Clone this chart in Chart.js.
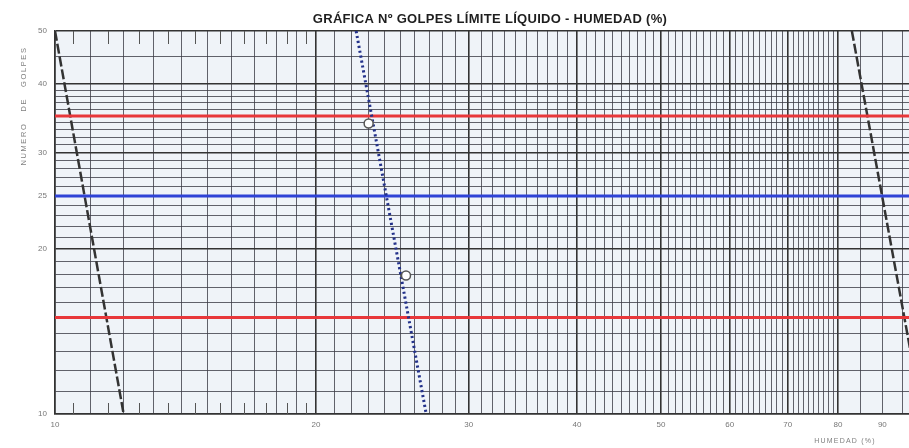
<!DOCTYPE html>
<html>
<head>
<meta charset="utf-8">
<script src="https://cdn.jsdelivr.net/npm/chart.js@4.4.1/dist/chart.umd.min.js"></script>
<style>
html,body{margin:0;padding:0;background:#ffffff;overflow:hidden;}
canvas{display:block;}
</style>
</head>
<body>
<canvas id="c" width="909" height="448"></canvas>
<script>
// ---- text ----
const chartTitle = 'GRÁFICA Nº GOLPES LÍMITE LÍQUIDO - HUMEDAD (%)';
const xAxisTitle = 'HUMEDAD (%)';
const yAxisTitle = 'NUMERO   DE   GOLPES';

// ---- axes ----
const xRange = [10, 96.6];
const yRange = [10, 50];
const xTickLabels = [10, 20, 30, 40, 50, 60, 70, 80, 90];
const yTickLabels = [10, 20, 25, 30, 40, 50];
const xGridValues = [10, 11, 12, 13, 14, 15, 16, 17, 18, 19, 20, 21, 22, 23, 24, 25, 26, 27, 28, 29,
  30, 31, 32, 33, 34, 35, 36, 37, 38, 39, 40, 41, 42, 43, 44, 45, 46, 47, 48, 49,
  50, 51, 52, 53, 54, 55, 56, 57, 58, 59, 60, 61, 62, 63, 64, 65, 66, 67, 68, 69,
  70, 71, 72, 73, 74, 75, 76, 77, 78, 79, 80, 85, 90, 95];
const xMajorGrid = [10, 20, 30, 40, 50, 60, 70, 80];
const yGridValues = [10, 11, 12, 13, 14, 15, 16, 17, 18, 19, 20, 21, 22, 23, 24, 25, 26, 27, 28, 29,
  30, 31, 32, 33, 34, 35, 36, 37, 38, 39, 40, 45, 50];
const yMajorGrid = [10, 20, 30, 40, 50];
const halfTickValues = [10.5, 11.5, 12.5, 13.5, 14.5, 15.5, 16.5, 17.5, 18.5, 19.5];

// ---- data ----
const sampleMoisture = [23.0, 25.4];
const sampleBlows = [33.9, 17.9];
const flowLineMoisture = [22.25, 26.8];
const flowLineBlows = [50, 10];
const leftLimitMoisture = [10, 12];
const leftLimitBlows = [50, 10];
const rightLimitMoisture = [83, 100];
const rightLimitBlows = [50, 10];
const redLevels = [35, 15];
const blueLevel = 25;

const pts = (xs, ys) => xs.map((x, i) => ({x: x, y: ys[i]}));
const hLine = (y) => [{x: xRange[0], y: y}, {x: xRange[1], y: y}];
const FONT = '"Liberation Sans", Arial, sans-serif';

const bgPlugin = {
  id: 'bg',
  beforeDraw(chart) {
    const {ctx, chartArea: a} = chart;
    ctx.save();
    ctx.fillStyle = '#eff3f8';
    ctx.fillRect(a.left, a.top, a.right - a.left, a.bottom - a.top);
    ctx.restore();
  },
  beforeDatasetsDraw(chart) {
    const {ctx, chartArea: a, scales} = chart;
    ctx.save();
    ctx.strokeStyle = '#555';
    ctx.lineWidth = 1;
    halfTickValues.forEach(v => {
      const px = Math.round(scales.x.getPixelForValue(v)) + 0.5;
      ctx.beginPath();
      ctx.moveTo(px, a.top); ctx.lineTo(px, a.top + 13);
      ctx.moveTo(px, a.bottom); ctx.lineTo(px, a.bottom - 11);
      ctx.stroke();
    });
    ctx.restore();
  },
  afterDraw(chart) {
    const {ctx} = chart;
    ctx.save();
    ctx.fillStyle = '#1e1e1e';
    ctx.font = 'bold 13px ' + FONT;
    if ('letterSpacing' in ctx) ctx.letterSpacing = '0.3px';
    ctx.textAlign = 'center';
    ctx.textBaseline = 'middle';
    ctx.fillText(chartTitle, 490, 19);
    ctx.fillStyle = '#808080';
    ctx.font = '7px ' + FONT;
    if ('letterSpacing' in ctx) ctx.letterSpacing = '1.2px';
    ctx.fillText(xAxisTitle, 845, 441);
    ctx.translate(24, 106);
    ctx.rotate(-Math.PI / 2);
    ctx.font = '7.5px ' + FONT;
    if ('letterSpacing' in ctx) ctx.letterSpacing = '1.6px';
    ctx.fillText(yAxisTitle, 0, 0);
    ctx.restore();
  }
};

new Chart(document.getElementById('c'), {
  type: 'scatter',
  data: {
    datasets: [
      { label: 'Ensayos', data: pts(sampleMoisture, sampleBlows), showLine: false,
        pointRadius: 4.5, pointBackgroundColor: '#ffffff', pointBorderColor: '#555',
        pointBorderWidth: 1.5 },
      { label: 'Curva de fluidez', data: pts(flowLineMoisture, flowLineBlows), showLine: true,
        borderColor: '#23318a', borderWidth: 3, borderDash: [2.2, 2.8], pointRadius: 0 },
      { label: '35 golpes', data: hLine(redLevels[0]), showLine: true,
        borderColor: '#e8373a', borderWidth: 3, pointRadius: 0 },
      { label: '25 golpes', data: hLine(blueLevel), showLine: true,
        borderColor: '#2f43d6', borderWidth: 3, pointRadius: 0 },
      { label: '15 golpes', data: hLine(redLevels[1]), showLine: true,
        borderColor: '#e8373a', borderWidth: 3, pointRadius: 0 },
      { label: 'Límite izq.', data: pts(leftLimitMoisture, leftLimitBlows), showLine: true,
        borderColor: '#333', borderWidth: 2.5, borderDash: [10, 3], pointRadius: 0 },
      { label: 'Límite der.', data: pts(rightLimitMoisture, rightLimitBlows), showLine: true,
        borderColor: '#333', borderWidth: 2.5, borderDash: [10, 3], pointRadius: 0 }
    ]
  },
  options: {
    responsive: false,
    animation: false,
    layout: { autoPadding: false, padding: { top: 31, right: 0, bottom: 0, left: 0 } },
    plugins: { legend: { display: false }, tooltip: { enabled: false }, title: { display: false } },
    scales: {
      x: {
        type: 'logarithmic',
        min: xRange[0], max: xRange[1],
        afterBuildTicks: (s) => { s.ticks = xGridValues.map(v => ({value: v})); },
        afterFit: (s) => { s.height = 34; s.paddingLeft = 0; s.paddingRight = 0; },
        ticks: {
          autoSkip: false, maxRotation: 0, minRotation: 0, padding: 6,
          color: '#777', font: { size: 8, family: FONT },
          callback: (v) => xTickLabels.includes(Math.round(v * 100) / 100) ? String(v) : ''
        },
        grid: {
          drawTicks: false,
          color: (c) => xMajorGrid.includes(c.tick && c.tick.value) ? '#333' : 'rgba(60,60,70,0.8)',
          lineWidth: (c) => xMajorGrid.includes(c.tick && c.tick.value) ? 1.6 : 1
        },
        border: { display: true, color: '#333', width: 1.5 }
      },
      y: {
        type: 'logarithmic',
        min: yRange[0], max: yRange[1],
        afterBuildTicks: (s) => { s.ticks = yGridValues.map(v => ({value: v})); },
        afterFit: (s) => { s.width = 55; s.paddingTop = 0; s.paddingBottom = 0; },
        ticks: {
          autoSkip: false, padding: 8,
          color: '#777', font: { size: 8, family: FONT },
          callback: (v) => yTickLabels.includes(Math.round(v * 100) / 100) ? String(v) : ''
        },
        grid: {
          drawTicks: false,
          color: (c) => yMajorGrid.includes(c.tick && c.tick.value) ? '#333' : 'rgba(60,60,70,0.8)',
          lineWidth: (c) => yMajorGrid.includes(c.tick && c.tick.value) ? 1.6 : 1
        },
        border: { display: true, color: '#333', width: 1.5 }
      }
    }
  },
  plugins: [bgPlugin]
});
</script>
</body>
</html>
